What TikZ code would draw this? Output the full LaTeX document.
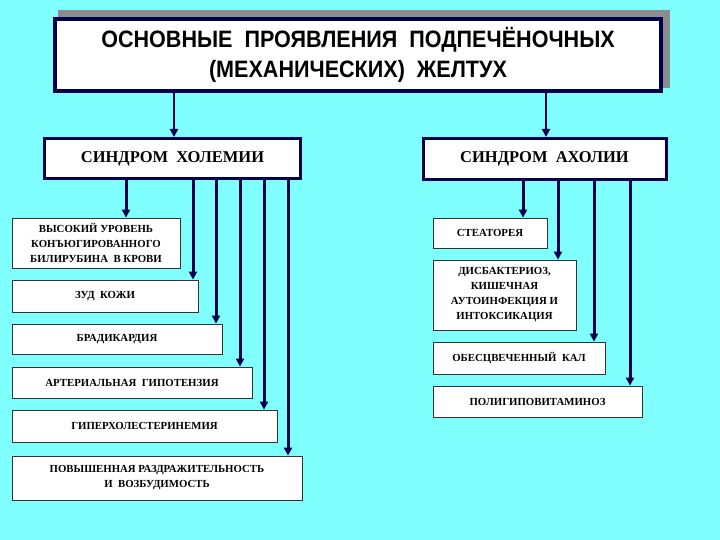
\documentclass[tikz,border=0pt]{standalone}
\usepackage{fontspec}
\setmainfont{Liberation Serif}
\newfontfamily\titlefont[FakeStretch=0.91]{Liberation Sans}
\usetikzlibrary{arrows.meta}
\definecolor{bgcyan}{RGB}{128,255,255}
\definecolor{navy}{RGB}{0,0,80}
\definecolor{shadowgrey}{RGB}{140,140,140}

\begin{document}
\begin{tikzpicture}[
  x=1pt, y=-1pt,
  head/.style  = {draw=navy, line width=4pt, fill=white, inner sep=0pt, align=center,
                  minimum width=606pt, minimum height=72pt,
                  font=\titlefont\bfseries\fontsize{23.7}{30}\selectfont},
  synd/.style  = {draw=navy, line width=3pt, fill=white, inner sep=0pt,
                  font=\bfseries\fontsize{16.5}{18}\selectfont},
  sign/.style  = {draw=black!80, line width=0.8pt, fill=white, inner sep=0pt, align=center,
                  font=\bfseries\fontsize{10.8}{15}\selectfont},
  ar/.style    = {draw=navy, line width=3pt, -{Triangle[length=8pt,width=8pt]}},
  arh/.style   = {draw=navy, line width=2.5pt, -{Triangle[length=8pt,width=8pt]}},
]

\fill[bgcyan] (0,0) rectangle (720,540);
\useasboundingbox (0,0) rectangle (720,540);

% ---- title -----------------------------------------------------------------
\fill[shadowgrey] (58,10) rectangle (670,88);
\node[head] (title) at (358,55)
  {ОСНОВНЫЕ\ \ ПРОЯВЛЕНИЯ\ \ ПОДПЕЧЁНОЧНЫХ\\(МЕХАНИЧЕСКИХ)\ \ ЖЕЛТУХ};

% ---- syndromes -------------------------------------------------------------
\node[synd, minimum width=256pt, minimum height=40pt] (hol) at (172.5,158.5)
  {СИНДРОМ\ \ ХОЛЕМИИ};
\node[synd, minimum width=243pt, minimum height=41pt] (ach) at (544.5,159)
  {СИНДРОМ\ \ АХОЛИИ};

\draw[arh] (title.south -| 174,0) -- (174,0 |- hol.north);
\draw[arh] (title.south -| 546,0) -- (546,0 |- ach.north);

% ---- cholemia signs --------------------------------------------------------
\node[sign, minimum width=168pt, minimum height=50pt] (hb1) at (96,243)
  {ВЫСОКИЙ УРОВЕНЬ\\КОНЪЮГИРОВАННОГО\\БИЛИРУБИНА\ \ В КРОВИ};
\node[sign, minimum width=186pt, minimum height=32pt] (hb2) at (105,296)
  {ЗУД\ \ КОЖИ};
\node[sign, minimum width=210pt, minimum height=30pt] (hb3) at (117,339)
  {БРАДИКАРДИЯ};
\node[sign, minimum width=240pt, minimum height=31pt] (hb4) at (132,382.5)
  {АРТЕРИАЛЬНАЯ\ \ ГИПОТЕНЗИЯ};
\node[sign, minimum width=265pt, minimum height=32pt] (hb5) at (144.5,426)
  {ГИПЕРХОЛЕСТЕРИНЕМИЯ};
\node[sign, minimum width=290pt, minimum height=44pt] (hb6) at (157,478)
  {ПОВЫШЕННАЯ РАЗДРАЖИТЕЛЬНОСТЬ\\И\ \ ВОЗБУДИМОСТЬ};

\draw[ar] (hol.south -| 126,0) -- (126,0 |- hb1.north);
\draw[ar] (hol.south -| 193,0) -- (193,0 |- hb2.north);
\draw[ar] (hol.south -| 216,0) -- (216,0 |- hb3.north);
\draw[ar] (hol.south -| 240,0) -- (240,0 |- hb4.north);
\draw[ar] (hol.south -| 264,0) -- (264,0 |- hb5.north);
\draw[ar] (hol.south -| 288,0) -- (288,0 |- hb6.north);

% ---- acholia signs ---------------------------------------------------------
\node[sign, minimum width=114pt, minimum height=30pt] (ab1) at (490,233)
  {СТЕАТОРЕЯ};
\node[sign, minimum width=143pt, minimum height=70pt] (ab2) at (504.5,295)
  {ДИСБАКТЕРИОЗ,\\КИШЕЧНАЯ\\АУТОИНФЕКЦИЯ И\\ИНТОКСИКАЦИЯ};
\node[sign, minimum width=172pt, minimum height=32pt] (ab3) at (519,358)
  {ОБЕСЦВЕЧЕННЫЙ\ \ КАЛ};
\node[sign, minimum width=209pt, minimum height=31pt] (ab4) at (537.5,401.5)
  {ПОЛИГИПОВИТАМИНОЗ};

\draw[ar] (ach.south -| 523,0) -- (523,0 |- ab1.north);
\draw[ar] (ach.south -| 558,0) -- (558,0 |- ab2.north);
\draw[ar] (ach.south -| 594,0) -- (594,0 |- ab3.north);
\draw[ar] (ach.south -| 630,0) -- (630,0 |- ab4.north);

\end{tikzpicture}
\end{document}
